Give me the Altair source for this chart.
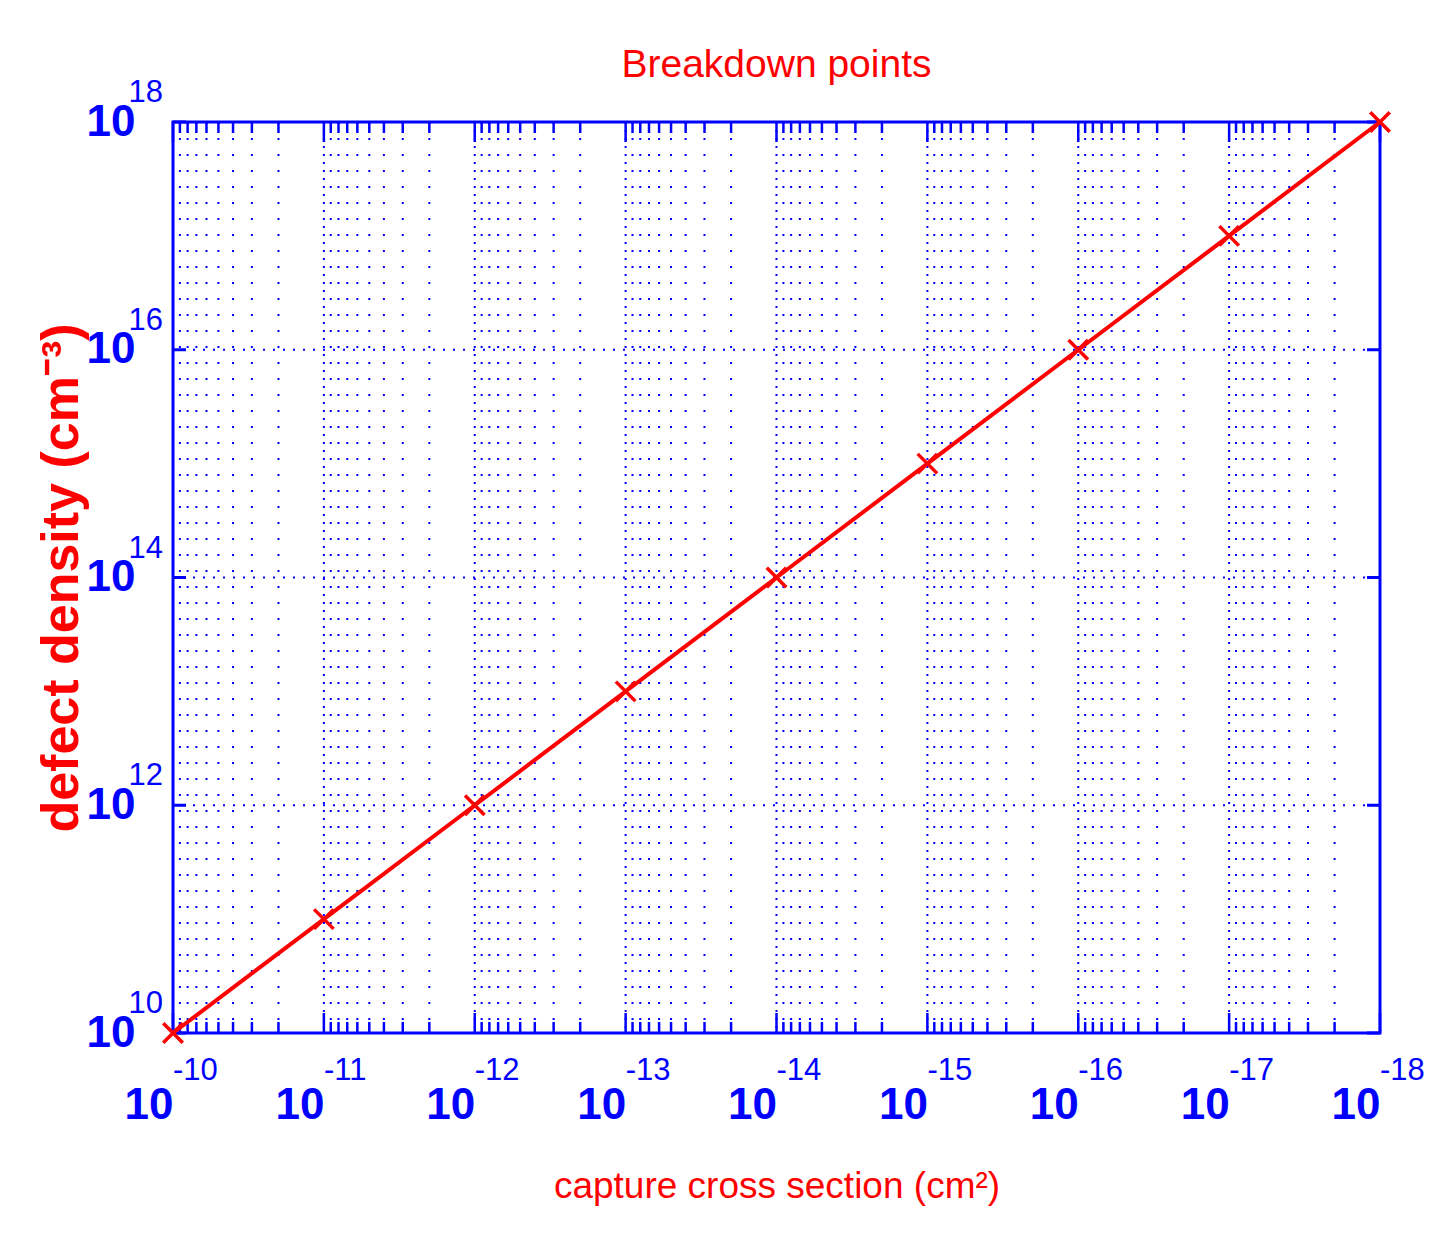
import altair as alt
import pandas as pd

# ---- data ----
capture_cross_section = [1e-10, 1e-11, 1e-12, 1e-13, 1e-14, 1e-15, 1e-16, 1e-17, 1e-18]
defect_density = [1e10, 1e11, 1e12, 1e13, 1e14, 1e15, 1e16, 1e17, 1e18]

x_major = [1e-10, 1e-11, 1e-12, 1e-13, 1e-14, 1e-15, 1e-16, 1e-17, 1e-18]
x_exponents = ["-10", "-11", "-12", "-13", "-14", "-15", "-16", "-17", "-18"]
y_major = [1e10, 1e12, 1e14, 1e16, 1e18]
y_exponents = ["10", "12", "14", "16", "18"]
minor_mult = [2, 3, 4, 5, 6, 7, 8, 9]
x_minor = [m * 10.0 ** (-k) for k in range(11, 19) for m in minor_mult]

W, H = 1207, 911
BLUE = "#0000FF"
RED = "#FF0000"
FONT = "Liberation Sans, Arial, sans-serif"

df = pd.DataFrame({"sigma": capture_cross_section, "N": defect_density})
df_xmaj = pd.DataFrame({"sigma": x_major, "e": x_exponents})
df_ymaj = pd.DataFrame({"N": y_major, "e": y_exponents})
df_xmin = pd.DataFrame({"sigma": x_minor})

xscale = alt.Scale(type="log", domain=[1e-18, 1e-10], reverse=True)
yscale = alt.Scale(type="log", domain=[1e10, 1e18])

x_axis = alt.Axis(values=x_major, labelExpr="'10'", grid=False, ticks=False, tickSize=0,
                  domain=False, labelAlign="right", labelBaseline="alphabetic",
                  labelPadding=85, labelFont=FONT, labelFontSize=44,
                  labelFontWeight="bold", labelColor=BLUE, labelOverlap=False,
                  labelFlush=False,
                  title="capture cross section (cm²)", titleFont=FONT,
                  titleFontSize=37, titleFontWeight="normal", titleColor=RED,
                  titleBaseline="alphabetic", titleY=164, titleX=W / 2,
                  titleAlign="center")
y_axis = alt.Axis(values=y_major, labelExpr="'10'", grid=False, ticks=False, tickSize=0,
                  domain=False, labelAlign="right", labelBaseline="middle",
                  labelPadding=38, labelFont=FONT, labelFontSize=44,
                  labelFontWeight="bold", labelColor=BLUE, labelOverlap=False,
                  labelFlush=False,
                  title="defect density (cm⁻³)", titleFont=FONT,
                  titleFontSize=52, titleFontWeight="bold", titleColor=RED,
                  titleAngle=270, titleBaseline="alphabetic", titleX=-96,
                  titleY=H / 2, titleAlign="center")

X = alt.X("sigma:Q", scale=xscale, axis=x_axis)
Y = alt.Y("N:Q", scale=yscale, axis=y_axis)

# data line and markers (drawn on top)
line = alt.Chart(df).mark_line(color=RED, strokeWidth=4).encode(x=X, y=Y)
points = alt.Chart(df).mark_point(
    shape="M-1,-1L1,1M1,-1L-1,1", size=380, color=RED, strokeWidth=3.5, filled=False, opacity=1
).encode(x=X, y=Y)

# grid lines
grid_xmin = alt.Chart(df_xmin).mark_rule(color=BLUE, strokeWidth=2, strokeDash=[2, 14]).encode(
    x=X, y=alt.value(0), y2=alt.value(H))
grid_xmaj = alt.Chart(df_xmaj).mark_rule(color=BLUE, strokeWidth=2, strokeDash=[2, 6]).encode(
    x=X, y=alt.value(0), y2=alt.value(H))
grid_ymaj = alt.Chart(df_ymaj).mark_rule(color=BLUE, strokeWidth=2, strokeDash=[2, 8]).encode(
    y=Y, x=alt.value(0), x2=alt.value(W))

# inward ticks
tick_xmaj_b = alt.Chart(df_xmaj).mark_rule(color=BLUE, strokeWidth=2.5).encode(
    x=X, y=alt.value(H), y2=alt.value(H - 20))
tick_xmaj_t = alt.Chart(df_xmaj).mark_rule(color=BLUE, strokeWidth=2.5).encode(
    x=X, y=alt.value(0), y2=alt.value(20))
tick_xmin_b = alt.Chart(df_xmin).mark_rule(color=BLUE, strokeWidth=2.5).encode(
    x=X, y=alt.value(H), y2=alt.value(H - 11))
tick_xmin_t = alt.Chart(df_xmin).mark_rule(color=BLUE, strokeWidth=2.5).encode(
    x=X, y=alt.value(0), y2=alt.value(11))
tick_y_l = alt.Chart(df_ymaj).mark_rule(color=BLUE, strokeWidth=3).encode(
    y=Y, x=alt.value(0), x2=alt.value(13))
tick_y_r = alt.Chart(df_ymaj).mark_rule(color=BLUE, strokeWidth=3).encode(
    y=Y, x=alt.value(W - 13), x2=alt.value(W))

# exponents of tick labels
exp_x = alt.Chart(df_xmaj).mark_text(font=FONT, fontSize=31, color=BLUE, align="left",
                                     baseline="alphabetic").encode(
    x=X, y=alt.value(H + 47), text="e:N")
exp_y = alt.Chart(df_ymaj).mark_text(font=FONT, fontSize=31, color=BLUE, align="right",
                                     baseline="alphabetic", dy=-20).encode(
    y=Y, x=alt.value(-10), text="e:N")

chart = alt.layer(
    grid_xmin, grid_xmaj, grid_ymaj,
    tick_xmaj_b, tick_xmaj_t, tick_xmin_b, tick_xmin_t, tick_y_l, tick_y_r,
    line, points, exp_x, exp_y,
).properties(
    width=W, height=H,
    title=alt.TitleParams("Breakdown points", font=FONT, fontSize=39, color=RED,
                          fontWeight="normal", anchor="middle", baseline="alphabetic",
                          offset=-39),
    autosize=alt.AutoSizeParams(type="none"),
    padding={"left": 165, "top": 114, "right": 60, "bottom": 180},
).configure_view(stroke=BLUE, strokeWidth=3)

chart.save("out.html", embed_options={"renderer": "svg", "actions": False})
